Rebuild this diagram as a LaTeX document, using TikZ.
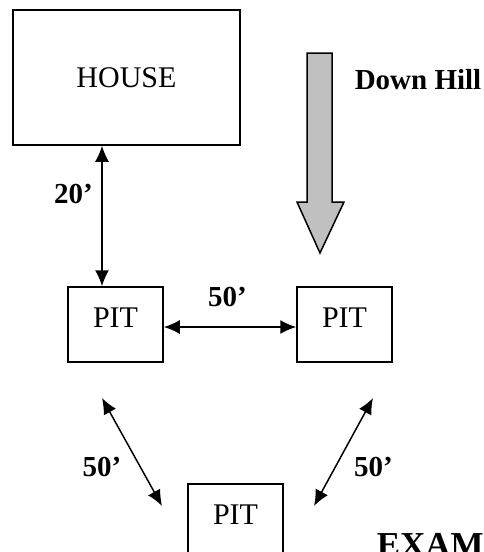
\documentclass[tikz,border=0pt]{standalone}
\usepackage{fontspec}
\setmainfont{Liberation Serif}
\usetikzlibrary{arrows.meta}
\definecolor{hillgray}{HTML}{C0C0C0}
\tikzset{
  pit/.style={draw, minimum width=95pt, minimum height=75pt, inner sep=0pt,
    font=\fontsize{30}{36}\selectfont, text height=20pt, text depth=14pt},
  dist/.style={font=\bfseries\fontsize{29}{34}\selectfont, anchor=base},
}
\begin{document}
\begin{tikzpicture}[x=1pt, y=-1pt, line width=1.5pt, >={Latex[length=16pt,width=14pt]}]
\useasboundingbox (0,0) rectangle (484,552);
\clip (0,0) rectangle (484,552);

\node[pit, minimum width=227pt, minimum height=135pt, text depth=0pt] (house) at (126.5,77.5) {HOUSE};
\node[pit] (pitA) at (115.5,324.5) {PIT};
\node[pit] (pitB) at (344.5,324.5) {PIT};
\node[pit] (pitC) at (235.5,521.5) {PIT};

\draw [<->]([xshift=-13.5pt]pitA.north |- house.south) -- ([xshift=-13.5pt]pitA.north);
\draw [<->]([yshift=-2.5pt]pitA.east) -- ([yshift=-2.5pt]pitB.west);

\coordinate (nwEnd) at (102,398);
\coordinate (swEnd) at (162,506);
\coordinate (neEnd) at (373,398);
\coordinate (seEnd) at (314,506);
\draw [<->](nwEnd) -- (swEnd);
\draw [<->](neEnd) -- (seEnd);

\node[dist] (dHouse) at (73.5,203) {20’};
\node[dist] (dTop) at (227.5,306) {50’};
\node[dist] (dLeft) at (102,476) {50’};
\node[dist] (dRight) at (373.5,476) {50’};
\node[dist] (downHill) at (418,89) {Down Hill};

% down hill arrow
\draw [fill=hillgray] (307,53) -- (332,53) -- (332,202) -- (344,202) -- (320,253) -- (297,202) -- (307,202) -- cycle;

\node[font=\bfseries\fontsize{35}{42}\selectfont, anchor=base west, inner sep=0pt] (exam) at (376,556) {EXAM};
\end{tikzpicture}
\end{document}
